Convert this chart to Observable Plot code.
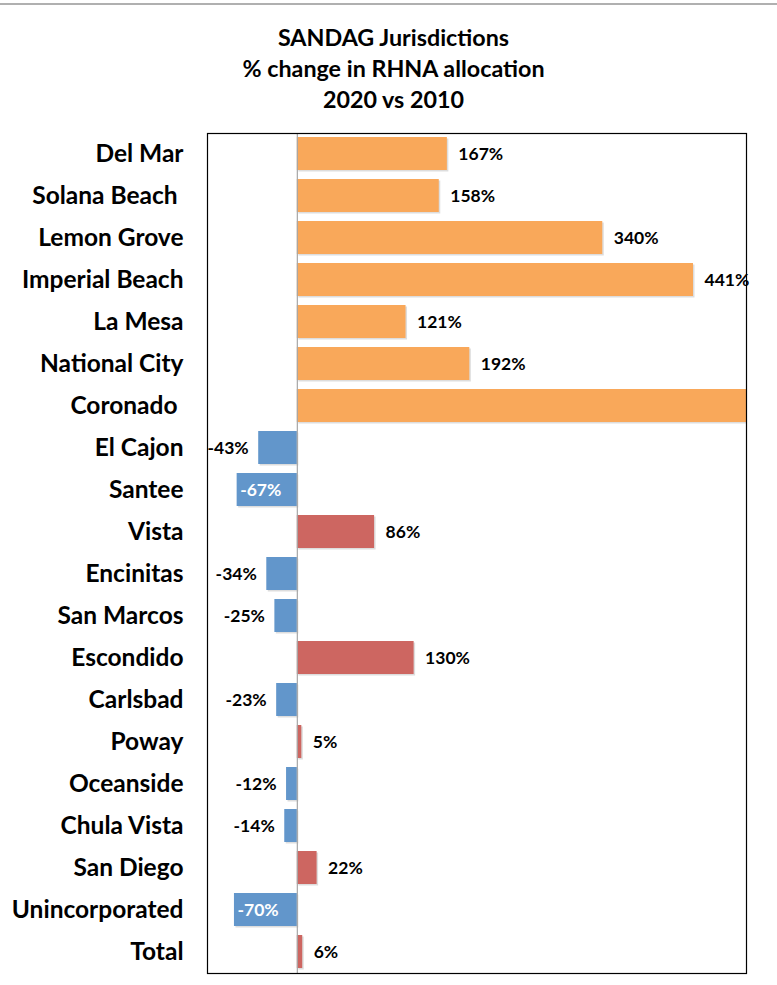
<!DOCTYPE html>
<html>
<head>
<meta charset="utf-8">
<script src="https://cdn.jsdelivr.net/npm/d3@7"></script>
<script src="https://cdn.jsdelivr.net/npm/@observablehq/plot@0.6"></script>
<style>
  body { margin: 0; background: #fff; font-family: Lato, "Open Sans", sans-serif; }
  #topline { position: absolute; left: 0; top: 3px; width: 777px; height: 2px; background: #b0b0b0; }
  #title { height: 120px; box-sizing: border-box; padding-top: 22px; text-align: center; font-weight: bold; font-size: 23.3px; line-height: 31px; color: #000; padding-left: 10px; }
  svg text { white-space: pre; }
</style>
</head>
<body>
<div id="topline"></div>
<div id="title">SANDAG Jurisdictions<br>% change in RHNA allocation<br>2020 vs 2010</div>
<div id="chart"></div>
<script>
const jurisdictions = ["Del Mar", "Solana Beach ", "Lemon Grove", "Imperial Beach", "La Mesa", "National City", "Coronado ", "El Cajon", "Santee", "Vista", "Encinitas", "San Marcos", "Escondido", "Carlsbad", "Poway", "Oceanside", "Chula Vista", "San Diego", "Unincorporated", "Total"];
const pctChange = [167, 158, 340, 441, 121, 192, 1724, -43, -67, 86, -34, -25, 130, -23, 5, -12, -14, 22, -70, 6];
const groups = ["high", "high", "high", "high", "high", "high", "high", "down", "down", "up", "down", "down", "up", "down", "up", "down", "down", "up", "down", "up"];
const showLabel = [true, true, true, true, true, true, false, true, true, true, true, true, true, true, true, true, true, true, true, true];
const insideLabel = [false, false, false, false, false, false, false, false, true, false, false, false, false, false, false, false, false, false, true, false];

const data = jurisdictions.map((name, i) => ({
  name, value: pctChange[i], group: groups[i], show: showLabel[i], inside: insideLabel[i],
  label: pctChange[i] + "%"
}));

const chart = Plot.plot({
  width: 777,
  height: 865,
  marginLeft: 207,
  marginRight: 31,
  marginTop: 13,
  marginBottom: 12,
  style: { fontFamily: "Lato, 'Open Sans', sans-serif", fontWeight: "bold", color: "#000", background: "#fff" },
  x: { domain: [-100, 500], axis: null },
  y: { domain: jurisdictions, paddingInner: 0.21, paddingOuter: 0.105, label: null, tickSize: 0, tickPadding: 24, tickFormat: d => d },
  color: { domain: ["high", "down", "up"], range: ["#F9A85A", "#6296CB", "#CD6661"] },
  marks: [
    Plot.barX(data, { x: "value", y: "name", clip: true, dx: 1.5, dy: 1.5, fillOpacity: 0.18, fill: () => "#444" }),
    Plot.barX(data, { x: "value", y: "name", fill: "group", clip: true }),
    Plot.ruleX([0], { stroke: "#a6a6a6", strokeWidth: 1.2 }),
    Plot.text(data.filter(d => d.show && !d.inside && d.value >= 0), { x: "value", y: "name", text: "label", textAnchor: "start", dx: 11, fontSize: 17.5, fill: "#000" }),
    Plot.text(data.filter(d => d.show && !d.inside && d.value < 0), { x: "value", y: "name", text: "label", textAnchor: "end", dx: -10, fontSize: 17.5, fill: "#000" }),
    Plot.text(data.filter(d => d.show && d.inside), { x: "value", y: "name", text: "label", textAnchor: "start", dx: 3, fontSize: 17.5, fill: "#fff" }),
    Plot.frame({ stroke: "#000", strokeWidth: 1.2 })
  ]
});
const yAxis = chart.querySelector("[aria-label='y-axis tick label']");
if (yAxis) { yAxis.setAttribute("font-size", "24.5"); yAxis.style.fontSize = "24.5px"; }
document.getElementById("chart").appendChild(chart);
</script>
</body>
</html>
